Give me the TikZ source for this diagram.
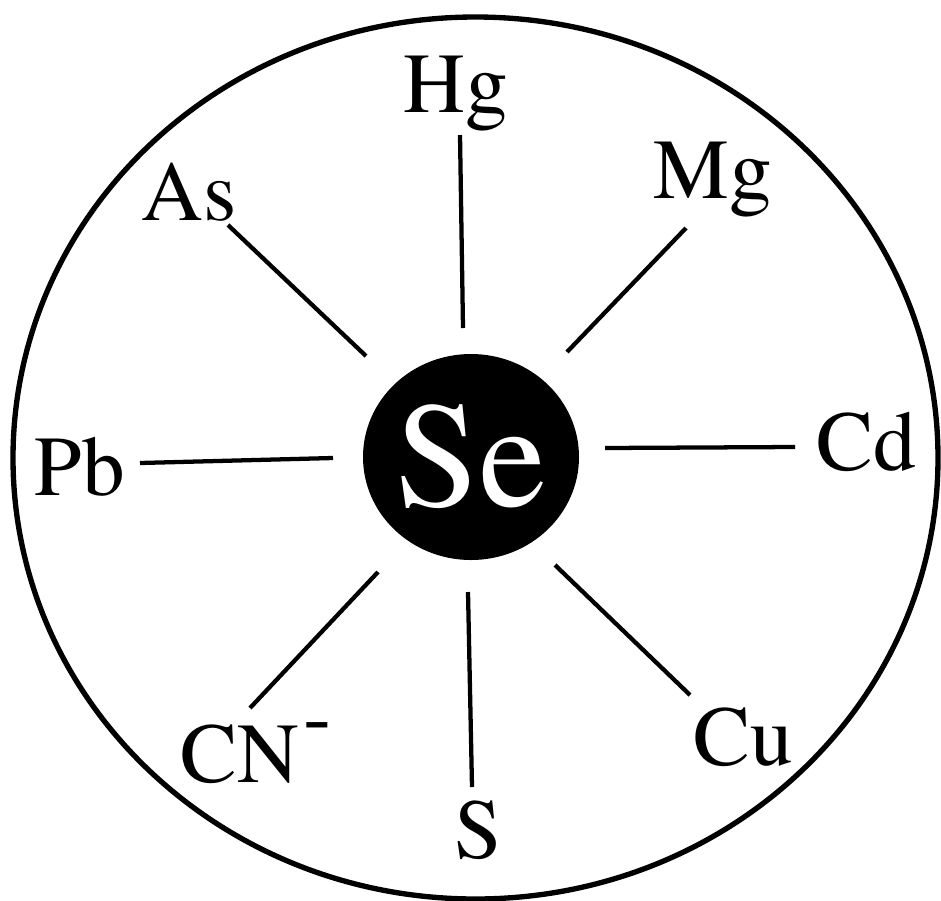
\documentclass[tikz,border=0pt]{standalone}
\usepackage{fontspec}
\setmainfont{texgyretermes}[Extension=.otf,UprightFont=*-regular,BoldFont=*-bold,ItalicFont=*-italic,BoldItalicFont=*-bolditalic]
\begin{document}
\begin{tikzpicture}[x=0.75pt,y=-0.75pt,
  lab/.style={inner sep=0pt,anchor=base,font=\rmfamily\fontsize{64}{70}\selectfont},
  spoke/.style={line width=3.2pt,line cap=butt},
  rim/.style={line width=4pt}]
\useasboundingbox (0,0) rectangle (941,900);
% outer ring
\draw[rim] (475.5,458) ellipse [x radius=462.5, y radius=441];
% centre
\fill (471,457) ellipse [x radius=108, y radius=103];
\node[inner sep=0pt,text=white,font=\rmfamily\fontsize{113}{120}\selectfont] (se) at (471,457) {Se};
% labels
\node[lab] (hg) at (456,112) {Hg};
\node[lab] (mg) at (713,198) {Mg};
\node[lab] (as) at (189,220) {As};
\node[lab] (pb) at (80,495) {Pb};
\node[lab] (cd) at (866,470) {Cd};
\node[lab] (cu) at (743,765) {Cu};
\node[lab] (s)  at (478,858) {S};
\node[lab,anchor=base west] (cn) at (180,782) {CN\hspace{0.06em}\raisebox{0.44em}{-}};
% spoke ends
\coordinate (hg1) at (460,135); \coordinate (hg2) at (463,328);
\coordinate (mg1) at (686,228); \coordinate (mg2) at (567,352);
\coordinate (cd1) at (795,447); \coordinate (cd2) at (605,448);
\coordinate (cu1) at (690,695); \coordinate (cu2) at (555,565);
\coordinate (s1)  at (472,787); \coordinate (s2)  at (468,592);
\coordinate (cn1) at (250,708); \coordinate (cn2) at (378,572);
\coordinate (pb1) at (140,463); \coordinate (pb2) at (333,458);
\coordinate (as1) at (228,225); \coordinate (as2) at (366,356);
\foreach \e in {hg,mg,cd,cu,s,cn,pb,as}{
  \draw[spoke] (\e1) -- (\e2);
}
\end{tikzpicture}
\end{document}
